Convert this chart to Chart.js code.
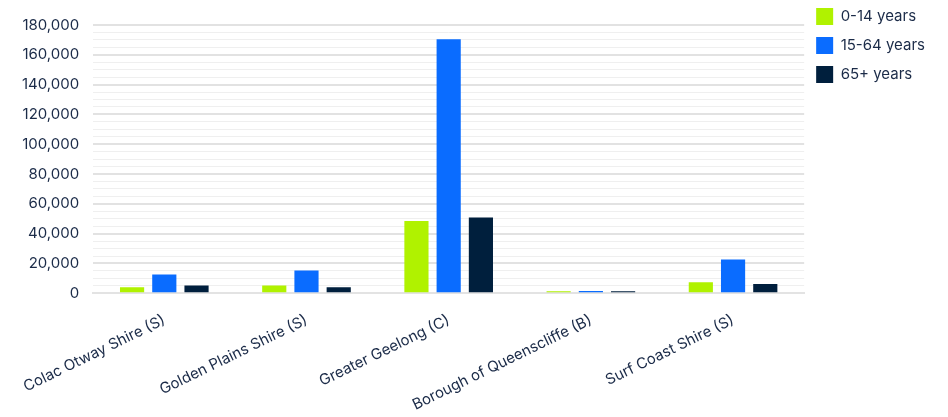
<!DOCTYPE html>
<html>
<head>
<meta charset="utf-8">
<script src="https://cdn.jsdelivr.net/npm/chart.js@4"></script>
<style>
  html, body { margin: 0; padding: 0; background: #fff; }
  #wrap { width: 948px; height: 417px; }
</style>
</head>
<body>
<div id="wrap"><canvas id="chart"></canvas></div>
<script>
// Population by age group, Barwon region LGAs
const categories = ['Colac Otway Shire (S)', 'Golden Plains Shire (S)', 'Greater Geelong (C)', 'Borough of Queenscliffe (B)', 'Surf Coast Shire (S)'];
const age0to14 = [4000, 5200, 48500, 1300, 7400];
const age15to64 = [12600, 15300, 170400, 1600, 22700];
const age65plus = [5200, 4000, 50800, 1400, 6300];
const seriesLabels = ['0-14 years', '15-64 years', '65+ years'];

const textColor = '#1b2b48';
const font = { family: 'Inter, "Noto Sans", sans-serif', size: 15 };

function dataset(label, data, color) {
    return {
        label: label,
        data: data,
        backgroundColor: color,
        borderColor: color,
        borderWidth: 0,
        categoryPercentage: 0.68,
        barPercentage: 0.75
    };
}

new Chart(document.getElementById('chart'), {
    type: 'bar',
    data: {
        labels: categories,
        datasets: [
            dataset(seriesLabels[0], age0to14, '#b0f200'),
            dataset(seriesLabels[1], age15to64, '#0a6cff'),
            dataset(seriesLabels[2], age65plus, '#001f3d')
        ]
    },
    options: {
        responsive: true,
        maintainAspectRatio: false,
        animation: false,
        layout: { padding: { left: 8, top: -4, right: 13, bottom: -7 } },
        plugins: {
            tooltip: { enabled: false },
            legend: {
                position: 'right',
                align: 'start',
                labels: {
                    boxWidth: 17,
                    boxHeight: 17,
                    padding: 12,
                    color: textColor,
                    font: font
                }
            }
        },
        scales: {
            x: {
                grid: { display: false },
                border: { color: '#e3e3e3', width: 2 },
                ticks: {
                    color: textColor,
                    font: font,
                    minRotation: 26,
                    maxRotation: 26,
                    padding: 10,
                    autoSkip: false
                }
            },
            y: {
                min: 0,
                max: 180000,
                border: { display: false },
                afterFit: s => { s.paddingTop = 25; },
                grid: {
                    color: ctx => (ctx.tick && ctx.tick.value % 20000 === 0) ? '#e2e2e2' : '#efefef',
                    lineWidth: ctx => (ctx.tick && ctx.tick.value % 20000 === 0) ? 2 : 1,
                    drawTicks: false
                },
                ticks: {
                    stepSize: 5000,
                    autoSkip: false,
                    padding: 14,
                    color: textColor,
                    font: font,
                    callback: v => v % 20000 === 0 ? v.toLocaleString('en-US') : ''
                }
            }
        }
    }
});
</script>
</body>
</html>
